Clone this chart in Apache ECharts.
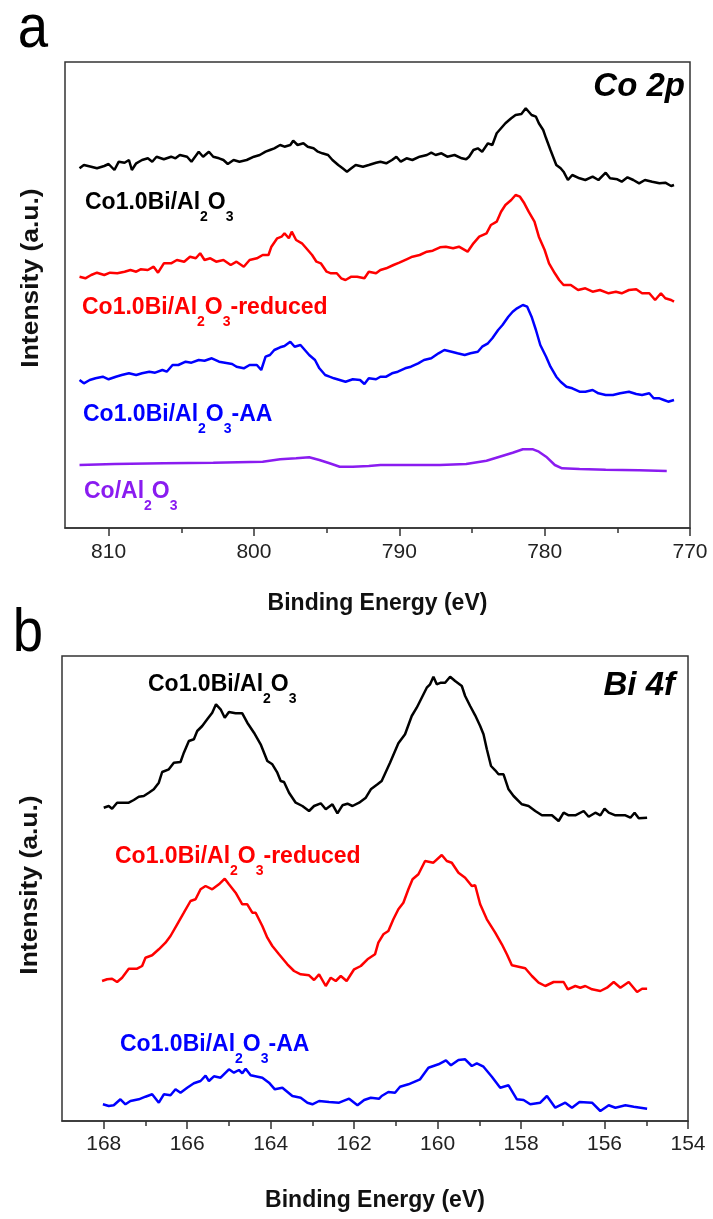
<!DOCTYPE html>
<html>
<head>
<meta charset="utf-8">
<script src="https://cdn.jsdelivr.net/npm/echarts@6.0.0/dist/echarts.min.js"></script>
<style>
html, body { margin: 0; padding: 0; background: #fff; }
#chart { width: 713px; height: 1219px; }
</style>
</head>
<body>
<div id="chart"></div>
<script>
// ---- panel a : Co 2p, [binding energy (eV), intensity (a.u.)] ----
const coBlack = [[812.0,359.7],[811.7,363],[811.2,361.3],[810.8,359.7],[810.3,362],[810.0,364],[809.6,358],[809.3,366.3],[808.9,365.3],[808.6,368],[808.4,358],[808.1,364.7],[807.7,368],[807.3,369.7],[807.0,366.3],[806.7,371.3],[806.2,368.7],[805.7,371.3],[805.4,369.7],[805.1,373],[804.6,371.3],[804.3,366.3],[803.8,376.3],[803.5,371.3],[803.1,376.3],[802.8,371.3],[802.4,369.7],[802.1,368],[801.8,364],[801.4,368],[801.0,366.3],[800.5,368],[800.0,371.3],[799.6,373],[799.2,376.3],[798.9,378],[798.6,379.7],[798.2,383],[797.9,381.3],[797.5,383],[797.3,387.3],[797.0,383],[796.6,384.7],[796.3,381.3],[795.9,379.7],[795.6,376.3],[795.3,374.7],[794.9,373],[794.6,368],[794.2,363],[793.9,359.7],[793.6,356.3],[793.3,359.7],[793.0,363],[792.5,361.3],[792.1,363],[791.6,365.3],[791.3,366.3],[790.9,364.7],[790.5,368],[790.2,371.3],[789.9,366.3],[789.5,369.7],[789.1,368],[788.6,371.3],[788.1,373],[787.8,375.3],[787.5,373],[787.1,374.7],[786.7,371.3],[786.2,373],[785.7,369.7],[785.4,368.7],[785.2,371.3],[784.9,378],[784.6,379.7],[784.3,376.3],[783.9,384.7],[783.6,383],[783.3,394.7],[783.0,399.7],[782.7,404.7],[782.3,409.7],[782.0,413],[781.6,414],[781.3,419.7],[780.9,413],[780.6,411.3],[780.4,404.7],[780.1,398],[779.9,389.7],[779.6,378],[779.2,363],[778.9,359.7],[778.7,356.3],[778.4,348],[778.1,353],[777.6,349.7],[777.2,348],[776.7,351.3],[776.3,348],[775.8,355.3],[775.5,349.7],[775.0,348.7],[774.7,346.3],[774.3,350.7],[773.9,348],[773.5,344.7],[773.1,348],[772.6,346.3],[772.1,344.7],[771.7,345.3],[771.3,342],[771.1,343]]
const coRed = [[812.0,251.3],[811.6,249.7],[811.2,253],[810.8,255.3],[810.3,253],[809.9,255.3],[809.4,254.7],[808.9,256.3],[808.5,258],[808.1,256.3],[807.8,258.7],[807.3,258],[806.9,261.3],[806.6,255.3],[806.2,264.7],[805.7,264.7],[805.3,268],[804.8,266.3],[804.4,271.3],[804.0,269.7],[803.7,274.7],[803.4,268],[803.0,269.7],[802.6,266.3],[802.1,268],[801.6,263],[801.2,266.3],[800.7,261.3],[800.3,268],[799.8,269.7],[799.4,273],[799.0,273],[798.8,281.3],[798.4,289.7],[798.1,291.3],[797.9,294.7],[797.6,289.7],[797.4,296.3],[797.1,288],[796.7,284.7],[796.4,279.7],[796.0,273],[795.7,266.3],[795.4,264.7],[795.0,256.3],[794.7,254.7],[794.3,254.7],[794.0,249.7],[793.7,248],[793.3,251.3],[792.9,251.3],[792.4,249.7],[792.1,256.3],[791.6,254.7],[791.3,258],[790.9,259.7],[790.4,263],[790.0,265.3],[789.5,268.7],[789.1,271.3],[788.6,273],[788.1,276.3],[787.7,277.3],[787.2,280.7],[786.8,281.3],[786.3,279.7],[785.9,281.3],[785.3,276.3],[784.9,284.7],[784.5,291.3],[784.0,294.7],[783.7,303],[783.3,306.3],[783.0,316.3],[782.7,323],[782.3,328],[782.0,333],[781.7,331.3],[781.4,324.7],[781.1,316.3],[780.7,306.3],[780.4,291.3],[780.0,278],[779.7,264.7],[779.3,254.7],[779.0,248],[778.7,243],[778.2,243],[777.7,238],[777.2,239.7],[776.7,236.3],[776.2,238],[775.6,234.7],[775.1,236.3],[774.7,234.7],[774.2,238],[773.7,238.7],[773.3,234.7],[772.8,234.7],[772.4,228],[772.0,234.7],[771.7,229.7],[771.3,228],[771.1,226.3]]
const coBlue = [[812.0,148],[811.7,144.7],[811.3,148],[810.9,149.7],[810.4,151.3],[810.0,148.7],[809.5,151.3],[809.1,153],[808.6,154.7],[808.1,153],[807.7,154.7],[807.2,156.3],[806.8,155.3],[806.3,158],[806.0,156.3],[805.6,163],[805.2,163],[804.7,166.3],[804.3,165.3],[803.8,168],[803.4,167.3],[802.9,169.7],[802.4,166.3],[802.0,165.3],[801.5,164],[801.2,161.3],[800.7,159.7],[800.3,163],[799.8,163],[799.5,158],[799.2,171.3],[798.9,173],[798.6,178],[798.2,180.7],[797.9,182],[797.5,186.3],[797.2,181.3],[796.8,183],[796.5,178],[796.2,173],[795.8,168],[795.5,159.7],[795.1,153],[794.8,151.3],[794.5,149.7],[794.1,148],[793.7,146.3],[793.2,148.7],[792.7,148],[792.4,144],[792.1,149.7],[791.6,148.7],[791.3,151.3],[790.9,151.3],[790.5,154.7],[790.1,156.3],[789.6,159.7],[789.2,161.3],[788.7,164.7],[788.3,168],[787.8,169.7],[787.3,174.7],[786.9,178],[786.4,176.3],[786.0,174.7],[785.5,173],[785.1,174.7],[784.6,176.3],[784.3,181.3],[783.9,184.7],[783.6,189.7],[783.2,198],[782.9,203],[782.5,211.3],[782.2,216.3],[781.9,219.7],[781.5,223],[781.2,221.3],[780.9,211.3],[780.6,198],[780.3,183],[779.9,171.3],[779.6,161.3],[779.2,151.3],[778.9,146.3],[778.5,141.3],[778.1,139.7],[777.6,136.3],[777.2,136.3],[776.7,138],[776.3,134.7],[775.8,133],[775.3,133],[774.8,134.7],[774.2,136.3],[773.7,134],[773.3,133],[772.8,134.7],[772.5,129.7],[772.1,129.7],[771.8,128],[771.5,126.3],[771.1,128]]
const coPurple = [[812.0,63],[809.6,64],[806.2,64.7],[802.8,65.3],[799.4,66.3],[798.2,68.7],[797.1,69.7],[796.2,70.7],[795.5,68],[794.8,64.7],[794.1,61.3],[793.2,61.3],[792.1,62],[791.3,63],[789.5,63],[787.2,63],[785.4,64],[784.0,67.3],[783.1,71.3],[782.2,75.3],[781.5,78.7],[780.8,78.7],[780.4,76.3],[779.9,71.3],[779.3,63],[778.8,59.7],[777.6,59],[775.8,58.3],[773.5,57.7],[771.6,57]]

// ---- panel b : Bi 4f ----
const biBlack = [[168.0,313.3],[167.88,315],[167.8,312.3],[167.68,318.3],[167.4,318.3],[167.28,321],[167.16,324.3],[167.04,325],[166.92,328.3],[166.8,331.7],[166.68,338.3],[166.6,349],[166.44,351.7],[166.32,358.3],[166.16,359],[166.08,368.3],[165.96,380],[165.84,381.7],[165.76,390],[165.64,395],[165.52,401.7],[165.4,408.3],[165.31,416.7],[165.2,411.7],[165.1,403.3],[165.0,409],[164.84,407.7],[164.68,407.7],[164.56,398.3],[164.4,388.3],[164.24,376.7],[164.08,360],[163.96,356.7],[163.84,348.3],[163.76,340],[163.68,339],[163.56,328.3],[163.4,318.3],[163.24,315],[163.08,310],[162.96,315],[162.8,317.7],[162.68,311.7],[162.52,316.7],[162.4,307.7],[162.28,315.7],[162.16,317.3],[162.04,315],[161.88,318.3],[161.72,323.3],[161.6,331.7],[161.44,336.7],[161.34,340],[161.14,358.3],[160.94,377.7],[160.78,386.7],[160.62,405],[160.5,413.3],[160.38,423.3],[160.26,433.3],[160.18,436.7],[160.1,444.3],[160.02,436.7],[159.92,438.3],[159.82,438.3],[159.7,444.3],[159.58,440],[159.42,435],[159.34,425],[159.22,415],[159.1,405.7],[158.98,395],[158.9,386.7],[158.82,371.7],[158.72,355],[158.62,350.7],[158.54,346.7],[158.42,346.7],[158.3,331.7],[158.18,325],[157.98,316.7],[157.82,315],[157.66,310],[157.5,305.7],[157.26,305.7],[157.1,300],[156.98,308.3],[156.86,305.7],[156.7,305.7],[156.5,310],[156.38,304.3],[156.22,308.3],[156.1,305.7],[156.0,312.3],[155.9,308.3],[155.74,305.7],[155.5,305.7],[155.38,303.3],[155.28,308.3],[155.18,302.7],[154.98,303.3]]
const biRed = [[168.04,140],[167.92,141.7],[167.8,142.3],[167.68,139],[167.56,143.3],[167.4,152.3],[167.2,152.3],[167.08,155],[167.0,163.3],[166.84,165.7],[166.68,171.7],[166.52,178.3],[166.4,185],[166.24,196.7],[166.08,208.3],[165.92,220],[165.8,221.7],[165.68,231.7],[165.56,235],[165.4,231.7],[165.24,236.7],[165.1,242.3],[165.0,236.7],[164.84,228.3],[164.68,216.7],[164.56,216.7],[164.44,208.3],[164.36,208.3],[164.2,195],[164.08,183.3],[163.96,175],[163.8,166.7],[163.6,156.7],[163.44,150],[163.28,146.7],[163.08,145.7],[162.96,141],[162.84,146.7],[162.68,135],[162.56,143.3],[162.44,140],[162.32,145],[162.18,140],[162.0,151.7],[161.84,155],[161.68,161.7],[161.5,166.7],[161.42,178.3],[161.3,186.7],[161.18,190],[161.06,201.7],[160.94,211.7],[160.82,218.3],[160.7,231.7],[160.6,241.7],[160.46,246.7],[160.3,260],[160.1,258.3],[159.9,266],[159.78,260],[159.66,258.3],[159.5,248.3],[159.34,243.3],[159.18,235],[159.1,235.7],[158.98,216.7],[158.82,201.7],[158.62,188.3],[158.46,176.7],[158.34,166.7],[158.22,155.7],[158.06,154.3],[157.9,152.7],[157.74,145],[157.58,138.3],[157.42,135],[157.22,139],[156.98,139],[156.88,131.7],[156.7,135],[156.58,133.3],[156.46,135],[156.3,131.7],[156.1,130],[155.94,133.3],[155.78,139],[155.62,133.3],[155.42,139],[155.22,129],[155.1,132.3],[154.98,132.3]]
const biBlue = [[168.02,16.7],[167.88,15],[167.76,15.7],[167.6,21.7],[167.48,16.7],[167.36,20],[167.16,21.7],[167.0,24.3],[166.84,26.7],[166.68,18.3],[166.56,26.7],[166.4,25.7],[166.28,31.7],[166.16,28.3],[166.0,33.3],[165.84,37.7],[165.68,40],[165.56,45.3],[165.48,40],[165.36,44.7],[165.2,43.3],[165.0,51.7],[164.88,48.3],[164.76,51],[164.68,47.7],[164.6,52.3],[164.48,45.7],[164.2,43.3],[164.04,38.3],[163.9,31.7],[163.72,33.3],[163.48,25],[163.28,23.3],[163.12,18.3],[163.0,16.7],[162.84,20],[162.6,19],[162.36,18.3],[162.12,22.3],[161.92,15.7],[161.76,21],[161.6,23.3],[161.4,22.3],[161.34,25],[161.18,29],[161.02,28.3],[160.9,34.3],[160.7,36.7],[160.42,41.7],[160.22,53.3],[159.98,56.7],[159.8,60.7],[159.68,55.7],[159.5,61],[159.34,61.7],[159.18,55],[159.06,57.7],[158.9,54.3],[158.7,44.3],[158.5,33.3],[158.3,35.7],[158.1,21.7],[157.94,21],[157.78,16.7],[157.54,18.3],[157.38,25],[157.18,13.3],[156.94,18.3],[156.78,13.3],[156.6,19],[156.3,18.3],[156.1,10],[155.9,15.7],[155.74,13.3],[155.5,15.7],[155.3,14.3],[154.98,12.3]]

// tick values
const coMajor = [770, 780, 790, 800, 810]
const coMinor = [775, 785, 795, 805]
const biMajor = [154, 156, 158, 160, 162, 164, 166, 168]
const biMinor = [155, 157, 159, 161, 163, 165, 167]

const FONT = '"Liberation Sans", Arial, sans-serif'
const BOX = '#333'

var myChart = echarts.init(document.getElementById('chart'), null, { renderer: 'canvas' })

// x axis pair (major with labels + minor ticks only)
function energyAxes(grid, min, max, major, minor, nameGap, margin) {
  return [{
    gridIndex: grid,
    type: 'value',
    position: 'bottom',
    min: min,
    max: max,
    inverse: true,
    name: 'Binding Energy (eV)',
    nameLocation: 'middle',
    nameGap: nameGap,
    nameTextStyle: { fontFamily: FONT, fontSize: 23, fontWeight: 'bold', color: '#111' },
    axisLine: { show: true, lineStyle: { color: BOX, width: 1.5 } },
    axisTick: { show: true, inside: false, length: 8, customValues: major, lineStyle: { color: BOX, width: 1.5 } },
    axisLabel: { show: true, customValues: major, margin: margin, fontFamily: FONT, fontSize: 21, color: '#222' },
    splitLine: { show: false }
  }, {
    gridIndex: grid,
    type: 'value',
    position: 'bottom',
    min: min,
    max: max,
    inverse: true,
    axisLine: { show: false },
    axisTick: { show: true, inside: false, length: 5, customValues: minor, lineStyle: { color: BOX, width: 1.5 } },
    axisLabel: { show: false },
    splitLine: { show: false }
  }]
}

function intensityAxis(grid, max) {
  return {
    gridIndex: grid,
    type: 'value',
    min: 0,
    max: max,
    axisLine: { show: false },
    axisTick: { show: false },
    axisLabel: { show: false },
    splitLine: { show: false }
  }
}

function curve(data, color, xi, yi) {
  return {
    type: 'line',
    data: data,
    xAxisIndex: xi,
    yAxisIndex: yi,
    symbol: 'none',
    smooth: false,
    lineStyle: { color: color, width: 2.5 },
    z: 3
  }
}

// sample label with Al2O3 subscripts; cy = centre of the capitals
function sampleLabel(x, cy, before, after, color) {
  var t = '{m|' + before + '}{s|2}{m|O}{s|3}' + (after ? '{m|' + after + '}' : '')
  return {
    type: 'text',
    x: x,
    y: cy - 11.5,
    z: 10,
    style: {
      text: t,
      align: 'left',
      verticalAlign: 'top',
      fill: color,
      rich: {
        m: { fontFamily: FONT, fontSize: 23, fontWeight: 'bold', verticalAlign: 'top', fill: color },
        // taller box pushes the digit below the baseline
        s: { fontFamily: FONT, fontSize: 14, fontWeight: 'bold', height: 51, verticalAlign: 'top', fill: color }
      }
    }
  }
}

function plainText(x, y, text, font, opts, props) {
  return Object.assign({
    type: 'text',
    x: x,
    y: y,
    z: 10,
    style: Object.assign({ text: text, font: font, fill: '#111', align: 'center', verticalAlign: 'middle' }, opts || {})
  }, props || {})
}

var option = {
  animation: false,
  backgroundColor: '#fff',
  grid: [
    { left: 65, top: 62, width: 625, height: 466, show: true, borderColor: BOX, borderWidth: 1.5, containLabel: false },
    { left: 62, top: 656, width: 626, height: 465, show: true, borderColor: BOX, borderWidth: 1.5, containLabel: false }
  ],
  xAxis: energyAxes(0, 770, 813, coMajor, coMinor, 64, 14).concat(energyAxes(1, 154, 169, biMajor, biMinor, 68, 13)),
  yAxis: [intensityAxis(0, 466), intensityAxis(1, 465)],
  series: [
    curve(coBlack, '#000000', 0, 0),
    curve(coRed, '#ff0000', 0, 0),
    curve(coBlue, '#0000ff', 0, 0),
    curve(coPurple, '#8a1cf0', 0, 0),
    curve(biBlack, '#000000', 2, 1),
    curve(biRed, '#ff0000', 2, 1),
    curve(biBlue, '#0000ff', 2, 1)
  ],
  graphic: [
    // panel letters
    plainText(33, 30, 'a', '62px ' + FONT, { fill: '#000' }, { scaleX: 0.88 }),
    plainText(28, 634, 'b', '62px ' + FONT, { fill: '#000' }, { scaleX: 0.88 }),
    // y axis titles
    plainText(32, 278, 'Intensity (a.u.)', 'bold 23px ' + FONT, null, { rotation: Math.PI / 2, scaleX: 1.15 }),
    plainText(31, 885, 'Intensity (a.u.)', 'bold 23px ' + FONT, null, { rotation: Math.PI / 2, scaleX: 1.15 }),
    // element tags
    plainText(685, 87, 'Co 2p', 'italic bold 33px ' + FONT, { align: 'right', fill: '#000' }),
    plainText(675, 686, 'Bi 4f', 'italic bold 33px ' + FONT, { align: 'right', fill: '#000' }),
    // sample labels, panel a
    sampleLabel(85, 203, 'Co1.0Bi/Al', '', '#000000'),
    sampleLabel(82, 308, 'Co1.0Bi/Al', '-reduced', '#ff0000'),
    sampleLabel(83, 415, 'Co1.0Bi/Al', '-AA', '#0000ff'),
    sampleLabel(84, 492, 'Co/Al', '', '#8a1cf0'),
    // sample labels, panel b
    sampleLabel(148, 685, 'Co1.0Bi/Al', '', '#000000'),
    sampleLabel(115, 857, 'Co1.0Bi/Al', '-reduced', '#ff0000'),
    sampleLabel(120, 1045, 'Co1.0Bi/Al', '-AA', '#0000ff')
  ]
}

myChart.setOption(option)
</script>
</body>
</html>
